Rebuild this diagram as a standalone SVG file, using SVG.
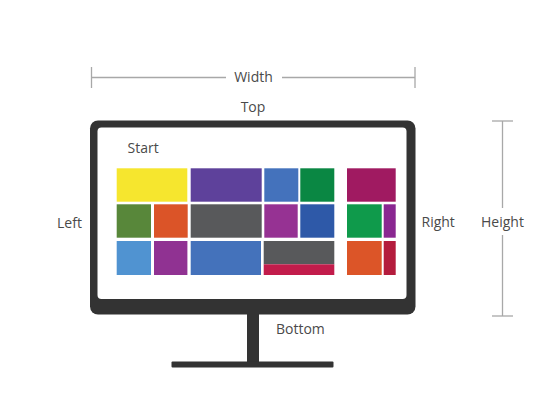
<svg xmlns="http://www.w3.org/2000/svg" width="544" height="405" viewBox="0 0 544 405">
<style>
  .lbl { font-family: "Open Sans", "Noto Sans", "Liberation Sans", sans-serif; font-size: 14px; fill: #4a4a4a; }
  .dim { stroke: #a8a8a8; stroke-width: 1.3; fill: none; }
  .dark { fill: #333333; }
</style>
<rect width="544" height="405" fill="#ffffff"/>

<g id="dimensions">
  <line class="dim" x1="91.5" y1="77.5" x2="226" y2="77.5"/>
  <line class="dim" x1="282" y1="77.5" x2="415" y2="77.5"/>
  <line class="dim" x1="91.5" y1="67" x2="91.5" y2="88"/>
  <line class="dim" x1="415" y1="67" x2="415" y2="88"/>
  <line class="dim" x1="502.5" y1="121" x2="502.5" y2="208"/>
  <line class="dim" x1="502.5" y1="235" x2="502.5" y2="316"/>
  <line class="dim" x1="492" y1="121" x2="513" y2="121"/>
  <line class="dim" x1="492" y1="316" x2="513" y2="316"/>
</g>

<g id="monitor">
  <rect class="dark" x="90" y="120.5" width="325.5" height="194" rx="8"/>
  <rect x="97.5" y="127.5" width="309" height="171.5" rx="4" fill="#ffffff"/>
  <rect class="dark" x="247" y="313" width="12" height="52"/>
  <rect class="dark" x="171.5" y="361.5" width="162" height="6" rx="1"/>
</g>

<g id="tiles">
  <rect x="116.7" y="168.3" width="70.6" height="33.4" fill="#F6E62E"/>
  <rect x="190.7" y="168.3" width="71" height="33.4" fill="#5E419B"/>
  <rect x="264.3" y="168.3" width="34" height="33.4" fill="#4472BC"/>
  <rect x="300.3" y="168.3" width="34" height="33.4" fill="#0A8743"/>
  <rect x="347" y="168.3" width="48.7" height="33.4" fill="#A01A61"/>

  <rect x="116.7" y="204.3" width="34.3" height="33.4" fill="#58873A"/>
  <rect x="154" y="204.3" width="33.7" height="33.4" fill="#DB5428"/>
  <rect x="190.7" y="204.3" width="71" height="33.4" fill="#58595B"/>
  <rect x="264.3" y="204.3" width="33.4" height="33.4" fill="#963293"/>
  <rect x="300.3" y="204.3" width="34" height="33.4" fill="#2E59A8"/>
  <rect x="347" y="204.3" width="34.7" height="33.4" fill="#0F9A4B"/>
  <rect x="383.7" y="204.3" width="12" height="33.4" fill="#8A2791"/>

  <rect x="116.7" y="241" width="34.3" height="34" fill="#5093D1"/>
  <rect x="154" y="241" width="33.4" height="34" fill="#903292"/>
  <rect x="190.7" y="241" width="70.3" height="34" fill="#4472BB"/>
  <rect x="263.7" y="241" width="70.6" height="23.3" fill="#58595B"/>
  <rect x="263.7" y="264.3" width="70.6" height="10.7" fill="#C21C4B"/>
  <rect x="347" y="241" width="34.7" height="34" fill="#DC5528"/>
  <rect x="383.7" y="241" width="12" height="34" fill="#B41C3D"/>
</g>

<g id="labels">
  <text class="lbl" x="253.5" y="81.5" text-anchor="middle">Width</text>
  <text class="lbl" x="253" y="112" text-anchor="middle">Top</text>
  <text class="lbl" x="127.5" y="152.5">Start</text>
  <text class="lbl" x="57" y="227.5">Left</text>
  <text class="lbl" x="421.5" y="226.5">Right</text>
  <text class="lbl" x="502.5" y="226.5" text-anchor="middle">Height</text>
  <text class="lbl" x="276" y="333.5">Bottom</text>
</g>
</svg>
